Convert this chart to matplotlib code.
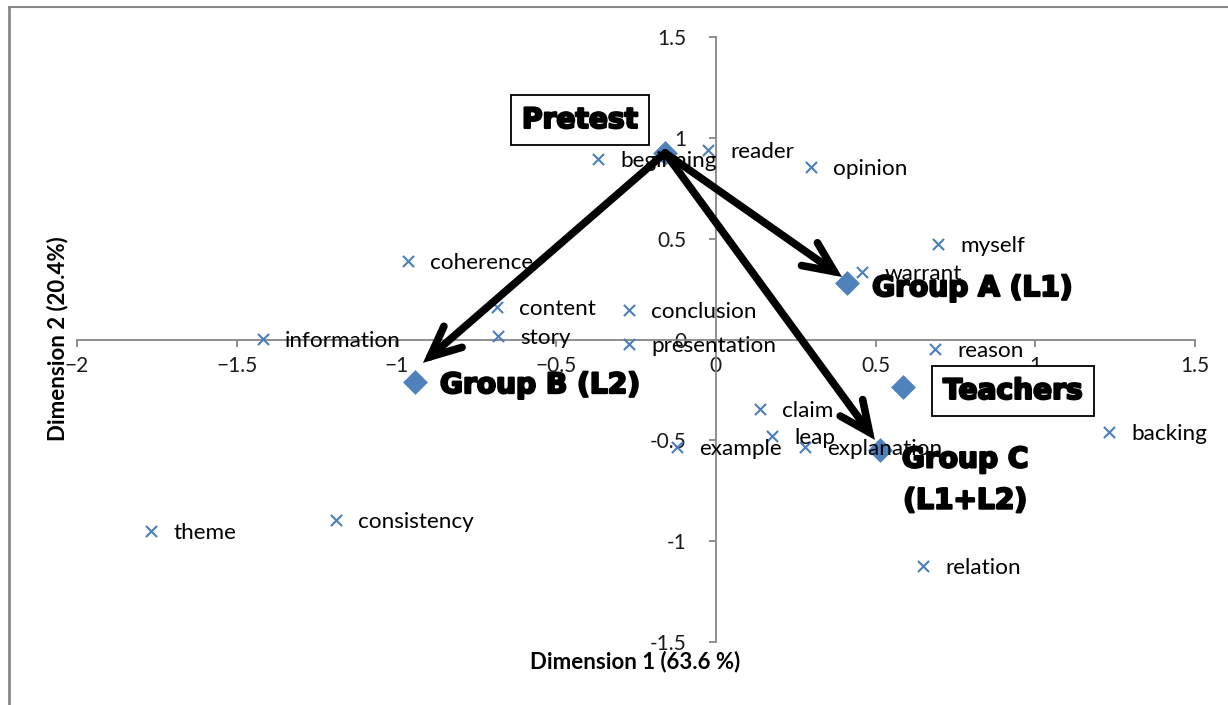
import matplotlib
matplotlib.use("Agg")
import matplotlib.pyplot as plt
from matplotlib.lines import Line2D
import matplotlib.patheffects as pe

# ---------------- data ----------------
terms = ["beginning", "reader", "opinion", "myself", "warrant", "coherence",
         "content", "conclusion", "information", "story", "presentation",
         "reason", "claim", "leap", "example", "explanation", "backing",
         "theme", "consistency", "relation"]
term_x = [-0.369, -0.024, 0.298, 0.696, 0.458, -0.964, -0.685, -0.272,
          -1.418, -0.682, -0.272, 0.686, 0.138, 0.176, -0.121, 0.279,
          1.231, -1.768, -1.189, 0.649]
term_y = [0.895, 0.940, 0.855, 0.474, 0.335, 0.389, 0.161, 0.147,
          0.003, 0.018, -0.022, -0.047, -0.344, -0.478, -0.533, -0.533,
          -0.458, -0.949, -0.895, -1.123]

groups = ["Pretest", "Group A (L1)", "Group B (L2)", "Group C\n(L1+L2)", "Teachers"]
group_x = [-0.159, 0.411, -0.942, 0.514, 0.586]
group_y = [0.925, 0.280, -0.211, -0.548, -0.235]

# arrows from Pretest toward groups A, B, C (tip positions)
arrow_tip_x = [0.395, -0.917, 0.498]
arrow_tip_y = [0.310, -0.116, -0.498]

x_ticks = [-2, -1.5, -1, -0.5, 0, 0.5, 1, 1.5]
x_tick_labels = ["\u22122", "\u22121.5", "\u22121", "\u22120.5", "0", "0.5", "1", "1.5"]
y_ticks = [-1.5, -1, -0.5, 0, 0.5, 1, 1.5]
y_tick_labels = ["-1.5", "-1", "-0.5", "0", "0.5", "1", "1.5"]

x_title = "Dimension 1 (63.6 %)"
y_title = "Dimension 2 (20.4%)"

# ---------------- figure ----------------
W, H = 1228, 705
fig = plt.figure(figsize=(W / 100, H / 100), dpi=100)
fig.patch.set_facecolor("white")
plt.rcParams["font.family"] = ["Lato", "DejaVu Sans"]

ax = fig.add_axes([77 / W, 1 - 642 / H, (1195 - 77) / W, (642 - 37) / H])
ax.set_xlim(-2, 1.5)
ax.set_ylim(-1.5, 1.5)
ax.patch.set_alpha(0)

axis_col = "#868686"
for s in ["top", "right"]:
    ax.spines[s].set_visible(False)
ax.spines["left"].set_position(("data", 0))
ax.spines["bottom"].set_position(("data", 0))
for s in ["left", "bottom"]:
    ax.spines[s].set_color(axis_col)
    ax.spines[s].set_linewidth(1.3)

ax.set_xticks(x_ticks)
ax.set_xticklabels(x_tick_labels)
ax.set_yticks(y_ticks)
ax.set_yticklabels(y_tick_labels)
ax.tick_params(axis="x", direction="out", length=5, width=1.3, color=axis_col,
               pad=7, labelsize=15, labelcolor="#1a1a1a")
ax.tick_params(axis="y", direction="out", length=5, width=1.3, color=axis_col,
               pad=16, labelsize=15, labelcolor="#1a1a1a")

blue = "#4A7EBB"
ax.scatter(term_x, term_y, marker="x", s=64, color=blue, linewidths=1.5, zorder=3)
ax.scatter(group_x, group_y, marker="D", s=160, color="#4F81BD", zorder=3,
           linewidths=0)

for t, x, y in zip(terms, term_x, term_y):
    ax.annotate(t, (x, y), xytext=(22, -2), textcoords="offset pixels",
                fontsize=16.2, ha="left", va="center", color="black", zorder=4)

# arrows
for tx, ty in zip(arrow_tip_x, arrow_tip_y):
    ax.annotate("", xy=(tx, ty), xytext=(group_x[0], group_y[0]),
                arrowprops=dict(arrowstyle="->,head_length=1.1,head_width=0.5",
                                lw=5.5, color="black", mutation_scale=20,
                                shrinkA=0, shrinkB=0, joinstyle="miter"),
                zorder=5)

heavy = dict(fontsize=20.2, fontweight="bold", color="black", zorder=6,
             family=["DejaVu Sans"],
             path_effects=[pe.withStroke(linewidth=1.6, foreground="black")])
box = dict(boxstyle="square,pad=0.38", facecolor="white", edgecolor="black", lw=1.3)
offsets = [(-85, 33, "center", "center", box),
           (25, -5, "left", "center", None),
           (25, -3, "left", "center", None),
           (85, -30, "center", "center", None),
           (110, -4, "center", "center", box)]
for g, x, y, (dx, dy, ha, va, bb) in zip(groups, group_x, group_y, offsets):
    ax.annotate(g, (x, y), xytext=(dx, dy), textcoords="offset pixels",
                ha=ha, va=va, bbox=bb, linespacing=1.6, **heavy)

fig.text(635 / W, 1 - 662 / H, x_title, ha="center", va="center",
         fontsize=16, fontweight="bold", color="black")
fig.text(58 / W, 1 - 339 / H, y_title, ha="center", va="center",
         rotation=90, fontsize=16, fontweight="bold", color="black")

# outer chart frame (top and left edges visible)
frame_col = "#888888"
fig.add_artist(Line2D([8.5 / W, 8.5 / W], [0, 1 - 7 / H], color=frame_col, lw=2))
fig.add_artist(Line2D([8.5 / W, 1], [1 - 7 / H, 1 - 7 / H], color=frame_col, lw=1.5))

fig.savefig("out.png", dpi=100, facecolor="white")
